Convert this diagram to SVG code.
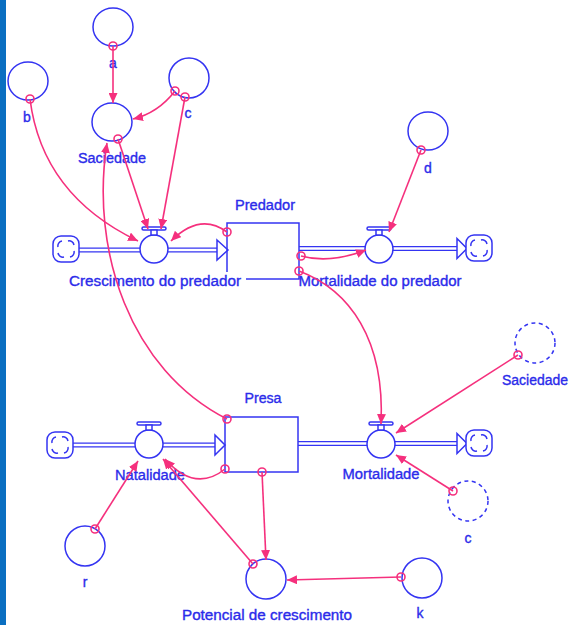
<svg xmlns="http://www.w3.org/2000/svg" width="571" height="625" viewBox="0 0 571 625">
<defs>
<style>
.b{fill:none;stroke:#3434f2;stroke-width:1.5}
.bw{fill:#fff;stroke:#3434f2;stroke-width:1.5}
.g{fill:none;stroke:#3434f2;stroke-width:1.5;stroke-dasharray:4 3.5}
.t{font-family:"Liberation Sans",Arial,sans-serif;font-size:14px;fill:#2b2bea;stroke:#2b2bea;stroke-width:0.35;text-anchor:middle}
.c{fill:none;stroke:#f5307d;stroke-width:1.6}
.o{fill:none;stroke:#f5307d;stroke-width:1.6}
.po{fill:none;stroke:#3434f2;stroke-width:5.2}
.pi{fill:none;stroke:#fff;stroke-width:2.4}
.lbg{fill:#fff}
</style>
<marker id="ah" markerUnits="userSpaceOnUse" markerWidth="11" markerHeight="9" refX="10" refY="4.5" orient="auto">
<path d="M0,0 L10,4.5 L0,9 z" fill="#f5307d"/>
</marker>
<!-- cloud: source / sink -->
<g id="cloud">
<rect x="-13" y="-13" width="26" height="26" rx="8" class="bw"/>
<path d="M-8,-2 a5,5 0 0 1 4,-6 M2,-8 a5,5 0 0 1 6,4 M8,2 a5,5 0 0 1 -4,6 M-2,8 a5,5 0 0 1 -6,-4" class="b"/>
</g>
<!-- flow valve -->
<g id="valve">
<circle r="14" class="bw"/>
<rect x="-12" y="-22" width="24" height="3" rx="1.5" class="bw"/>
<rect x="-3" y="-19" width="6" height="5" class="bw"/>
</g>
</defs>

<rect width="571" height="625" fill="#fff"/>
<rect x="0" y="0" width="6" height="625" fill="#0b6fc1"/>

<!-- flows (pipes) -->
<g id="pipes">
<path d="M79,250 H218" class="po"/><path d="M79,250 H218" class="pi"/>
<polygon points="217,240 228,250 217,260" class="bw"/>
<path d="M299,248.5 H458" class="po"/><path d="M299,248.5 H458" class="pi"/>
<polygon points="457,238.5 467,248.5 457,258.5" class="bw"/>
<path d="M73,445 H216" class="po"/><path d="M73,445 H216" class="pi"/>
<polygon points="215,435 225,445 215,455" class="bw"/>
<path d="M298,443.5 H458" class="po"/><path d="M298,443.5 H458" class="pi"/>
<polygon points="457,433.5 467,443.5 457,453.5" class="bw"/>
</g>

<!-- stocks -->
<g id="predador">
<rect x="227" y="223" width="72" height="56" class="b"/>
<text class="t" x="265" y="210" textLength="60" lengthAdjust="spacingAndGlyphs">Predador</text>
</g>
<g id="presa">
<rect x="225" y="417" width="73" height="55" class="b"/>
<text class="t" x="263" y="403" textLength="37" lengthAdjust="spacingAndGlyphs">Presa</text>
</g>

<!-- clouds -->
<g id="src-predador"><use href="#cloud" x="66" y="249"/></g>
<g id="sink-predador"><use href="#cloud" x="479" y="248"/></g>
<g id="src-presa"><use href="#cloud" x="60" y="445"/></g>
<g id="sink-presa"><use href="#cloud" x="479" y="443"/></g>

<!-- valves -->
<g id="crescimento-predador">
<use href="#valve" x="154" y="249"/>
<rect class="lbg" x="67" y="272" width="179" height="18"/>
<text class="t" x="155" y="286" textLength="172" lengthAdjust="spacingAndGlyphs">Crescimento do predador</text>
</g>
<g id="mortalidade-predador">
<use href="#valve" x="379" y="249"/>
<text class="t" x="380" y="286" textLength="163" lengthAdjust="spacingAndGlyphs">Mortalidade do predador</text>
</g>
<g id="natalidade">
<use href="#valve" x="149" y="444"/>
<text class="t" x="150" y="480" textLength="70" lengthAdjust="spacingAndGlyphs">Natalidade</text>
</g>
<g id="mortalidade">
<use href="#valve" x="381" y="444"/>
<text class="t" x="381" y="479" textLength="77" lengthAdjust="spacingAndGlyphs">Mortalidade</text>
</g>

<!-- converters -->
<g id="a"><ellipse cx="113" cy="27" rx="20" ry="19" class="b"/><text class="t" x="113" y="68">a</text></g>
<g id="b"><ellipse cx="28" cy="81" rx="20" ry="19" class="b"/><text class="t" x="27" y="122">b</text></g>
<g id="c"><ellipse cx="189" cy="78" rx="20" ry="20" class="b"/><text class="t" x="188" y="118">c</text></g>
<g id="saciedade"><ellipse cx="112" cy="122" rx="20" ry="19" class="b"/><text class="t" x="112" y="163" textLength="68" lengthAdjust="spacingAndGlyphs">Saciedade</text></g>
<g id="d"><ellipse cx="428" cy="131" rx="20" ry="19" class="b"/><text class="t" x="428" y="173">d</text></g>
<g id="saciedade-ghost"><circle cx="535" cy="343" r="20" class="g"/><text class="t" x="535" y="385" textLength="66" lengthAdjust="spacingAndGlyphs">Saciedade</text></g>
<g id="c-ghost"><circle cx="468" cy="501" r="20" class="g"/><text class="t" x="468" y="543">c</text></g>
<g id="r"><circle cx="85" cy="546" r="20" class="b"/><text class="t" x="85" y="587">r</text></g>
<g id="potencial"><circle cx="266" cy="579" r="20" class="b"/><text class="t" x="267" y="620" textLength="170" lengthAdjust="spacingAndGlyphs">Potencial de crescimento</text></g>
<g id="k"><circle cx="422" cy="578" r="20" class="b"/><text class="t" x="420" y="618">k</text></g>

<!-- connectors -->
<g id="connectors" marker-end="url(#ah)">
<path d="M113,46 L113,103" class="c"/>
<path d="M175,91 Q158,113 133,119" class="c"/>
<path d="M30,99 Q42,195 138,241" class="c"/>
<path d="M118,139 L148,229" class="c"/>
<path d="M185,97 L161,229" class="c"/>
<path d="M227,232 Q200,212 171,241" class="c"/>
<path d="M227,419 C130,370 90,250 107,143" class="c"/>
<path d="M301,256 Q330,264 366,250" class="c"/>
<path d="M421,150 L389,232" class="c"/>
<path d="M299,271 C350,290 385,340 381,424" class="c"/>
<path d="M518,355 L396,433" class="c"/>
<path d="M453,491 L396,455" class="c"/>
<path d="M95,529 L138,461" class="c"/>
<path d="M225,469 Q195,493 165,459" class="c"/>
<path d="M262,472 L266,560" class="c"/>
<path d="M253,564 L163,459" class="c"/>
<path d="M401,577 L287,580" class="c"/>
</g>
<g id="connector-origins">
<circle cx="113" cy="46" r="4" class="o"/>
<circle cx="175" cy="91" r="4" class="o"/>
<circle cx="185" cy="97" r="4" class="o"/>
<circle cx="30" cy="99" r="4" class="o"/>
<circle cx="118" cy="139" r="4" class="o"/>
<circle cx="227" cy="232" r="4" class="o"/>
<circle cx="227" cy="419" r="4" class="o"/>
<circle cx="301" cy="256" r="4" class="o"/>
<circle cx="421" cy="150" r="4" class="o"/>
<circle cx="299" cy="271" r="4" class="o"/>
<circle cx="518" cy="355" r="4" class="o"/>
<circle cx="453" cy="491" r="4" class="o"/>
<circle cx="95" cy="529" r="4" class="o"/>
<circle cx="225" cy="469" r="4" class="o"/>
<circle cx="262" cy="472" r="4" class="o"/>
<circle cx="253" cy="564" r="4" class="o"/>
<circle cx="401" cy="577" r="4" class="o"/>
</g>
</svg>
